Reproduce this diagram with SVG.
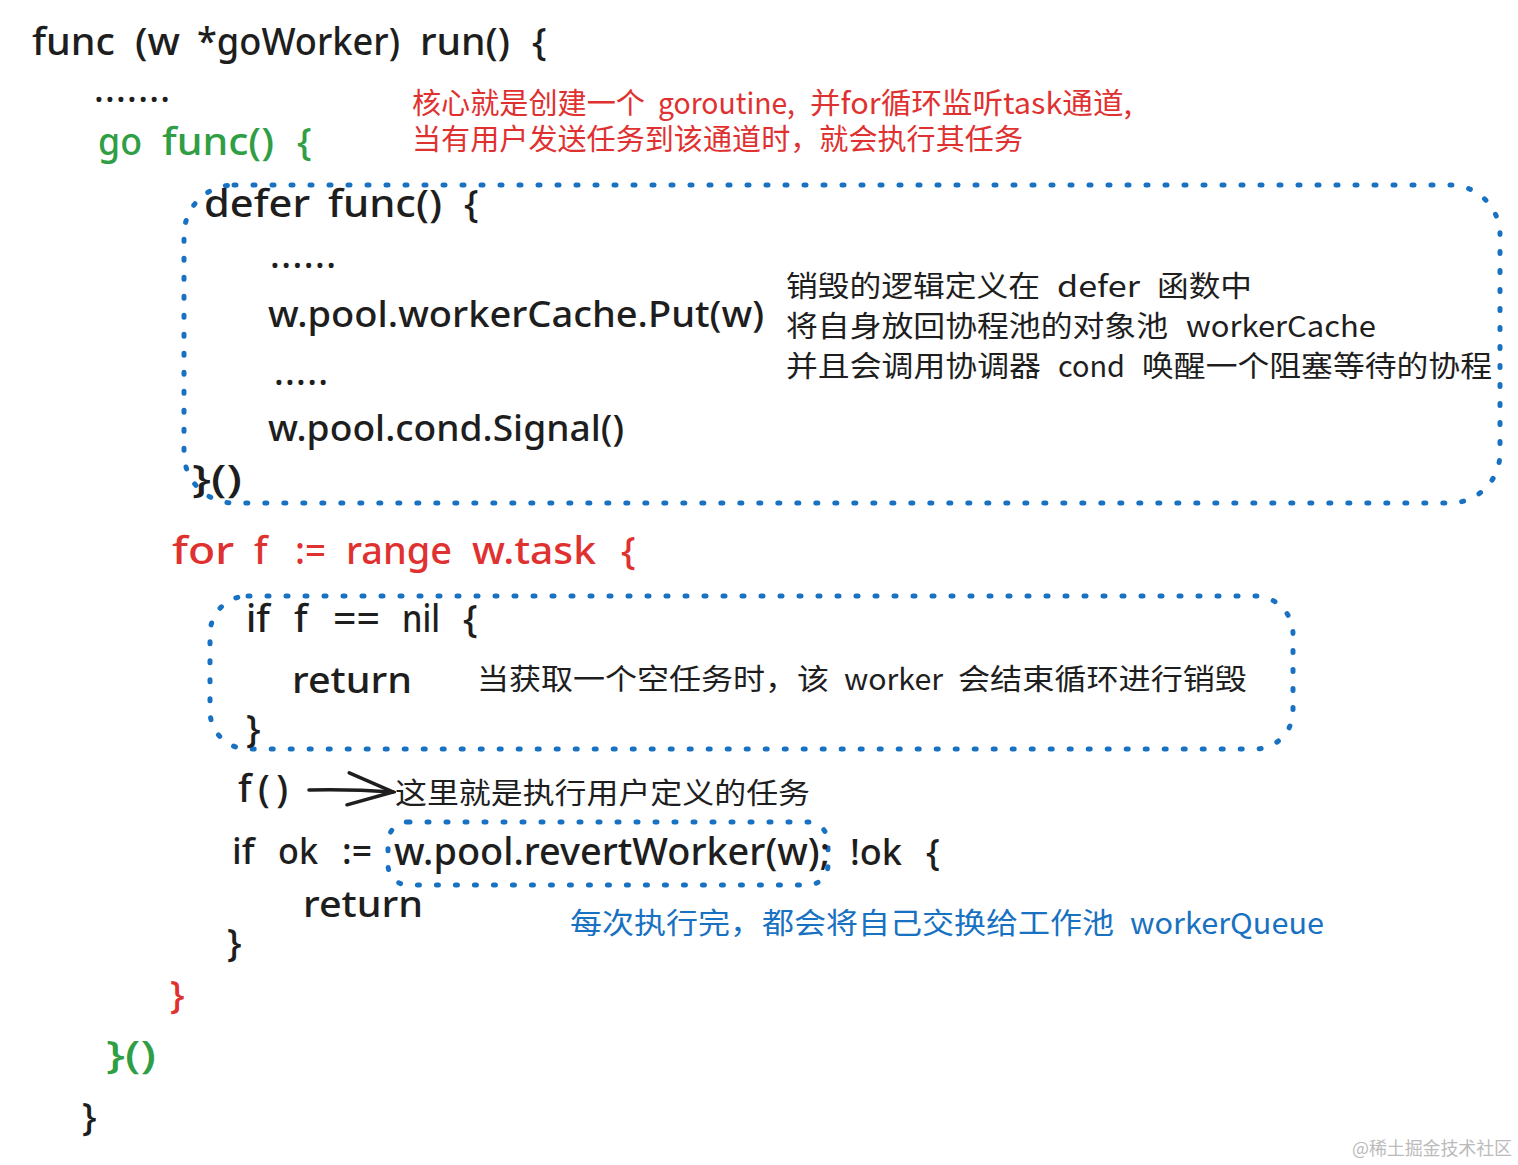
<svg xmlns="http://www.w3.org/2000/svg" width="1518" height="1165" viewBox="0 0 1518 1165">
<style>
text{font-family:"Noto Sans","Noto Sans CJK SC",sans-serif;fill:#1e1e1e;font-size:36px;font-weight:500}
.cn{font-family:"Noto Sans CJK SC",sans-serif;font-size:29px;font-weight:400}
.c{font-size:38px}
.red{fill:#e03131}.green{fill:#2f9e44}.blue{fill:#1971c2}
.box{fill:none;stroke:#1971c2;stroke-width:5;stroke-dasharray:2 17;stroke-linecap:round}
.wm{font-family:"Noto Sans CJK SC",serif;font-size:18px;fill:#bbb;font-weight:400}
</style>
<defs><marker id="a" markerWidth="50" markerHeight="40" refX="47" refY="18" orient="auto" markerUnits="userSpaceOnUse"><path d="M2 2L47 18L2 34" fill="none" stroke="#1e1e1e" stroke-width="3.5" stroke-linecap="round"/></marker></defs>
<rect width="1518" height="1165" fill="#fff"/>
<g id="connectors">
<path d="M309 790Q350 789 393 792" fill="none" stroke="#1e1e1e" stroke-width="3.5" stroke-linecap="round" marker-end="url(#a)"/>
</g>
<g id="box1"><rect class="box" x="184" y="185" width="1316" height="318" rx="50"/></g>
<g id="box2"><rect class="box" x="210" y="596" width="1083" height="153" rx="38"/></g>
<g id="box3"><rect class="box" x="388" y="822" width="440" height="63" rx="20"/></g>
<g id="code">
<text y="55" class="c"><tspan x="32" textLength="83" lengthAdjust="spacingAndGlyphs">func</tspan> <tspan x="135" textLength="45" lengthAdjust="spacingAndGlyphs">(w</tspan> <tspan x="197" textLength="203" lengthAdjust="spacingAndGlyphs">*goWorker)</tspan> <tspan x="420" textLength="90" lengthAdjust="spacingAndGlyphs">run()</tspan> <tspan x="532">{</tspan></text>
<text x="94" y="102" textLength="76">.......</text>
<text y="155" class="c green"><tspan x="98" textLength="44" lengthAdjust="spacingAndGlyphs">go</tspan> <tspan x="162" textLength="112" lengthAdjust="spacingAndGlyphs">func()</tspan> <tspan x="297">{</tspan></text>
<text y="217" class="c"><tspan x="204" textLength="106" lengthAdjust="spacingAndGlyphs">defer</tspan> <tspan x="328" textLength="114" lengthAdjust="spacingAndGlyphs">func()</tspan> <tspan x="464">{</tspan></text>
<text x="270" y="268" textLength="66">......</text>
<text x="268" y="327" textLength="496" lengthAdjust="spacingAndGlyphs">w.pool.workerCache.Put(w)</text>
<text x="274" y="385" textLength="54">.....</text>
<text x="268" y="441" textLength="356" lengthAdjust="spacingAndGlyphs">w.pool.cond.Signal()</text>
<text x="192" y="492" class="c" textLength="50" lengthAdjust="spacingAndGlyphs">}()</text>
<text y="564" class="c red"><tspan x="172" textLength="62" lengthAdjust="spacingAndGlyphs">for</tspan> <tspan x="254">f</tspan> <tspan x="295" textLength="31" lengthAdjust="spacingAndGlyphs">:=</tspan> <tspan x="346" textLength="106" lengthAdjust="spacingAndGlyphs">range</tspan> <tspan x="472" textLength="124" lengthAdjust="spacingAndGlyphs">w.task</tspan> <tspan x="621">{</tspan></text>
<text y="632" class="c"><tspan x="246">if</tspan> <tspan x="294">f</tspan> <tspan x="333" textLength="47" lengthAdjust="spacingAndGlyphs">==</tspan> <tspan x="402" textLength="38" lengthAdjust="spacingAndGlyphs">nil</tspan> <tspan x="463">{</tspan></text>
<text x="292" y="693" textLength="120" lengthAdjust="spacingAndGlyphs">return</text>
<text x="246" y="742" class="c">}</text>
<text x="238" y="802" class="c" textLength="50">f()</text>
<text y="864"><tspan x="232">if</tspan> <tspan x="278" textLength="40" lengthAdjust="spacingAndGlyphs">ok</tspan> <tspan x="342" textLength="30" lengthAdjust="spacingAndGlyphs">:=</tspan></text>
<text x="394" y="865" class="c" textLength="436" lengthAdjust="spacingAndGlyphs">w.pool.revertWorker(w);</text>
<text y="865"><tspan x="850" textLength="52" lengthAdjust="spacingAndGlyphs">!ok</tspan> <tspan x="926">{</tspan></text>
<text x="303" y="917" textLength="120" lengthAdjust="spacingAndGlyphs">return</text>
<text x="227" y="956" class="c">}</text>
<text x="170" y="1008" class="c red">}</text>
<text x="106" y="1068" class="c green" textLength="50" lengthAdjust="spacingAndGlyphs">}()</text>
<text x="82" y="1130" class="c">}</text>
</g>
<g id="notes">
<text y="114" class="cn red"><tspan x="412" textLength="233" lengthAdjust="spacingAndGlyphs">核心就是创建一个</tspan> <tspan x="658" textLength="137" lengthAdjust="spacingAndGlyphs">goroutine,</tspan> <tspan x="810" textLength="322" lengthAdjust="spacingAndGlyphs">并for循环监听task通道,</tspan></text>
<text x="412" y="150" class="cn red" textLength="611" lengthAdjust="spacingAndGlyphs">当有用户发送任务到该通道时，就会执行其任务</text>
<text y="297" class="cn"><tspan x="786" textLength="254" lengthAdjust="spacingAndGlyphs">销毁的逻辑定义在</tspan> <tspan x="1057" textLength="83" lengthAdjust="spacingAndGlyphs">defer</tspan> <tspan x="1157" textLength="95" lengthAdjust="spacingAndGlyphs">函数中</tspan></text>
<text y="337" class="cn"><tspan x="786" textLength="382" lengthAdjust="spacingAndGlyphs">将自身放回协程池的对象池</tspan> <tspan x="1186" textLength="190" lengthAdjust="spacingAndGlyphs">workerCache</tspan></text>
<text y="377" class="cn"><tspan x="786" textLength="255" lengthAdjust="spacingAndGlyphs">并且会调用协调器</tspan> <tspan x="1058" textLength="67" lengthAdjust="spacingAndGlyphs">cond</tspan> <tspan x="1142" textLength="350" lengthAdjust="spacingAndGlyphs">唤醒一个阻塞等待的协程</tspan></text>
<text y="690" class="cn"><tspan x="477" textLength="352" lengthAdjust="spacingAndGlyphs">当获取一个空任务时，该</tspan> <tspan x="844" textLength="99" lengthAdjust="spacingAndGlyphs">worker</tspan> <tspan x="958" textLength="289" lengthAdjust="spacingAndGlyphs">会结束循环进行销毁</tspan></text>
<text x="395" y="804" class="cn" textLength="415" lengthAdjust="spacingAndGlyphs">这里就是执行用户定义的任务</text>
<text y="934" class="cn blue"><tspan x="570" textLength="544" lengthAdjust="spacingAndGlyphs">每次执行完，都会将自己交换给工作池</tspan> <tspan x="1130" textLength="194" lengthAdjust="spacingAndGlyphs">workerQueue</tspan></text>
<text x="1352" y="1155" class="wm" textLength="160">@稀土掘金技术社区</text>
</g>
</svg>
